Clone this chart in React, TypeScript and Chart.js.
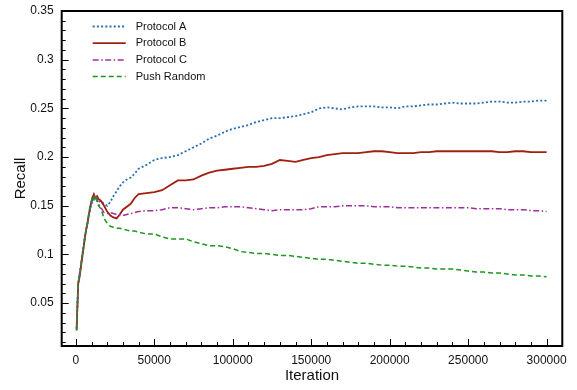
import { useEffect, useRef } from "react";
import { Chart, registerables } from "chart.js";

Chart.register(...registerables);

const iterations = [
  500, 1500, 2500, 3500, 4500, 5500, 6500, 7500, 8500, 9500, 10500, 11500, 12500, 13500, 14500,
  16000, 18000, 20000, 22000, 24000, 26000, 28000, 30000, 32500, 35000, 37500, 40000,
  45000, 50000, 55000, 60000, 65000, 70000, 75000, 80000, 85000, 90000, 95000, 100000,
  105000, 110000, 115000, 120000, 125000, 130000, 135000, 140000, 145000, 150000,
  155000, 160000, 165000, 170000, 175000, 180000, 185000, 190000, 195000, 200000,
  205000, 210000, 215000, 220000, 225000, 230000, 235000, 240000, 245000, 250000,
  255000, 260000, 265000, 270000, 275000, 280000, 285000, 290000, 295000, 300000,
];

const protocolA = [
  0.024, 0.068, 0.080, 0.092, 0.104, 0.116, 0.124, 0.132, 0.142, 0.149, 0.155, 0.158, 0.157, 0.156, 0.154,
  0.155, 0.152, 0.150, 0.154, 0.160, 0.165, 0.170, 0.174, 0.177, 0.179, 0.183, 0.188,
  0.192, 0.197, 0.199, 0.200, 0.202, 0.206, 0.210, 0.214, 0.219, 0.222, 0.226, 0.229,
  0.231, 0.233, 0.236, 0.238, 0.240, 0.240, 0.241, 0.242, 0.244, 0.246,
  0.250, 0.251, 0.250, 0.249, 0.251, 0.252, 0.252, 0.252, 0.251, 0.251,
  0.250, 0.252, 0.252, 0.253, 0.254, 0.254, 0.255, 0.256, 0.255, 0.255,
  0.255, 0.256, 0.257, 0.257, 0.256, 0.256, 0.257, 0.257, 0.258, 0.258,
];

const protocolB = [
  0.022, 0.070, 0.078, 0.090, 0.102, 0.114, 0.125, 0.133, 0.143, 0.151, 0.158, 0.162, 0.158, 0.160, 0.157,
  0.155, 0.150, 0.144, 0.140, 0.138, 0.137, 0.141, 0.146, 0.149, 0.152, 0.158, 0.162,
  0.163, 0.164, 0.166, 0.171, 0.176, 0.176, 0.177, 0.181, 0.184, 0.186, 0.187, 0.188,
  0.189, 0.190, 0.190, 0.191, 0.193, 0.197, 0.196, 0.195, 0.197, 0.199,
  0.200, 0.202, 0.203, 0.204, 0.204, 0.204, 0.205, 0.206, 0.206, 0.205,
  0.204, 0.204, 0.204, 0.205, 0.205, 0.206, 0.206, 0.206, 0.206, 0.206,
  0.206, 0.206, 0.206, 0.205, 0.205, 0.206, 0.206, 0.205, 0.205, 0.205,
];

const protocolC = [
  0.024, 0.069, 0.082, 0.091, 0.100, 0.115, 0.124, 0.134, 0.141, 0.150, 0.156, 0.160, 0.161, 0.157, 0.152,
  0.148, 0.143, 0.142, 0.143, 0.142, 0.141, 0.140, 0.140, 0.141, 0.142, 0.143, 0.144,
  0.145, 0.145, 0.146, 0.148, 0.148, 0.147, 0.146, 0.147, 0.148, 0.148, 0.149, 0.149,
  0.149, 0.148, 0.147, 0.146, 0.145, 0.146, 0.146, 0.146, 0.146, 0.147,
  0.149, 0.149, 0.149, 0.150, 0.150, 0.150, 0.150, 0.149, 0.149, 0.149,
  0.148, 0.148, 0.148, 0.148, 0.148, 0.148, 0.148, 0.148, 0.148, 0.148,
  0.147, 0.147, 0.147, 0.147, 0.146, 0.146, 0.146, 0.145, 0.145, 0.144,
];

const pushRandom = [
  0.023, 0.072, 0.079, 0.093, 0.103, 0.113, 0.126, 0.133, 0.145, 0.152, 0.159, 0.156, 0.161, 0.154, 0.150,
  0.147, 0.137, 0.132, 0.129, 0.128, 0.127, 0.127, 0.126, 0.125, 0.124, 0.124, 0.123,
  0.121, 0.121, 0.118, 0.116, 0.116, 0.116, 0.113, 0.111, 0.109, 0.109, 0.108, 0.106,
  0.103, 0.102, 0.101, 0.101, 0.100, 0.099, 0.099, 0.098, 0.097, 0.096,
  0.095, 0.095, 0.094, 0.093, 0.092, 0.091, 0.091, 0.090, 0.089, 0.089,
  0.088, 0.088, 0.087, 0.086, 0.086, 0.085, 0.085, 0.085, 0.084, 0.083,
  0.082, 0.082, 0.081, 0.081, 0.080, 0.079, 0.079, 0.078, 0.078, 0.077,
];

const seriesLabels = ["Protocol A", "Protocol B", "Protocol C", "Push Random"];
const xTickValues = [0, 50000, 100000, 150000, 200000, 250000, 300000];
const xTickLabels = ["0", "50000", "100000", "150000", "200000", "250000", "300000"];
const yTickValues = [0.05, 0.1, 0.15, 0.2, 0.25, 0.3, 0.35];
const yTickLabels = ["0.05", "0.1", "0.15", "0.2", "0.25", "0.3", "0.35"];

const FONT = "'Liberation Sans', Arial, Helvetica, sans-serif";

const styles = [
  { color: "#2a6db0", dash: [2, 2.2], width: 1.8 },
  { color: "#a01f10", dash: [], width: 1.8 },
  { color: "#9c2f9c", dash: [6, 2.5, 1.5, 2.5], width: 1.5 },
  { color: "#1e961e", dash: [5, 3], width: 1.5 },
];

const frameTicksLegend = {
  id: "frameTicksLegend",
  afterDraw(chart: any) {
    const { ctx, chartArea: a, scales } = chart;
    const xs = scales.x;
    const ys = scales.y;
    ctx.save();
    ctx.strokeStyle = "#000";
    ctx.lineWidth = 1;
    ctx.setLineDash([]);
    for (let v = 0; v <= 310000; v += 10000) {
      const px = Math.round(xs.getPixelForValue(v)) + 0.5;
      if (px < a.left || px > a.right) continue;
      const len = v % 50000 === 0 ? 7 : 4;
      ctx.beginPath();
      ctx.moveTo(px, a.bottom);
      ctx.lineTo(px, a.bottom - len);
      ctx.stroke();
    }
    for (let i = 1; i <= 35; i++) {
      const v = i / 100;
      const py = Math.round(ys.getPixelForValue(v)) + 0.5;
      if (py < a.top || py > a.bottom) continue;
      const len = i % 5 === 0 ? 7 : 4;
      ctx.beginPath();
      ctx.moveTo(a.left, py);
      ctx.lineTo(a.left + len, py);
      ctx.stroke();
    }
    ctx.lineWidth = 2;
    ctx.strokeRect(a.left, a.top, a.right - a.left, a.bottom - a.top);

    const lx0 = a.left + 31;
    const lx1 = a.left + 64;
    const tx = a.left + 74;
    ctx.font = `11px ${FONT}`;
    ctx.textBaseline = "middle";
    ctx.textAlign = "left";
    chart.data.datasets.forEach((ds: any, i: number) => {
      const y = a.top + 15.5 + i * 16.7;
      ctx.strokeStyle = ds.borderColor;
      ctx.lineWidth = ds.borderWidth;
      ctx.setLineDash(ds.borderDash || []);
      ctx.beginPath();
      ctx.moveTo(lx0, y);
      ctx.lineTo(lx1, y);
      ctx.stroke();
      ctx.setLineDash([]);
      ctx.fillStyle = "#111";
      ctx.fillText(ds.label, tx, y);
    });
    ctx.restore();
  },
};

export default function App() {
  const ref = useRef<HTMLCanvasElement | null>(null);

  useEffect(() => {
    if (!ref.current) return;
    const seriesValues = [protocolA, protocolB, protocolC, pushRandom];
    const chart = new Chart(ref.current, {
      type: "line",
      data: {
        datasets: seriesValues.map((vals, i) => ({
          label: seriesLabels[i],
          data: iterations.map((x, j) => ({ x, y: vals[j] })),
          borderColor: styles[i].color,
          backgroundColor: styles[i].color,
          borderWidth: styles[i].width,
          borderDash: styles[i].dash,
          pointRadius: 0,
          tension: 0,
          fill: false,
          order: 3 - i,
        })),
      },
      options: {
        animation: false,
        responsive: false,
        layout: { padding: { left: 0, top: 11, right: 14.7, bottom: 0 } },
        plugins: {
          legend: { display: false },
          tooltip: { enabled: false },
        },
        scales: {
          x: {
            type: "linear",
            min: -9000,
            max: 310000,
            grid: { display: false, drawTicks: false },
            border: { display: false },
            afterFit: (s: any) => {
              s.height = 44;
              s.paddingLeft = 0;
              s.paddingRight = 0;
            },
            afterBuildTicks: (s: any) => {
              s.ticks = xTickValues.map((value) => ({ value }));
            },
            ticks: {
              padding: 7,
              maxRotation: 0,
              autoSkip: false,
              color: "#111",
              font: { family: FONT, size: 12 },
              callback: (v: any) => {
                const i = xTickValues.indexOf(Number(v));
                return i >= 0 ? xTickLabels[i] : "";
              },
            },
            title: {
              display: true,
              text: "Iteration",
              color: "#111",
              font: { family: FONT, size: 15 },
              padding: { top: 0, bottom: 5 },
            },
          },
          y: {
            type: "linear",
            min: 0.006,
            max: 0.35,
            grid: { display: false, drawTicks: false },
            border: { display: false },
            afterFit: (s: any) => {
              s.width = 61.7;
              s.paddingTop = 0;
              s.paddingBottom = 0;
            },
            afterBuildTicks: (s: any) => {
              s.ticks = yTickValues.map((value) => ({ value }));
            },
            ticks: {
              padding: 8,
              autoSkip: false,
              color: "#111",
              font: { family: FONT, size: 12 },
              callback: (v: any) => {
                const i = yTickValues.findIndex((t) => Math.abs(t - Number(v)) < 1e-9);
                return i >= 0 ? yTickLabels[i] : "";
              },
            },
            title: {
              display: true,
              text: "Recall",
              color: "#111",
              font: { family: FONT, size: 15 },
              padding: { top: 12, bottom: 0 },
            },
          },
        },
      },
      plugins: [frameTicksLegend],
    });
    return () => chart.destroy();
  }, []);

  return (
    <div style={{ position: "fixed", left: 0, top: 0, width: 577, height: 390, background: "#fff" }}>
      <canvas ref={ref} width={577} height={390} />
    </div>
  );
}
